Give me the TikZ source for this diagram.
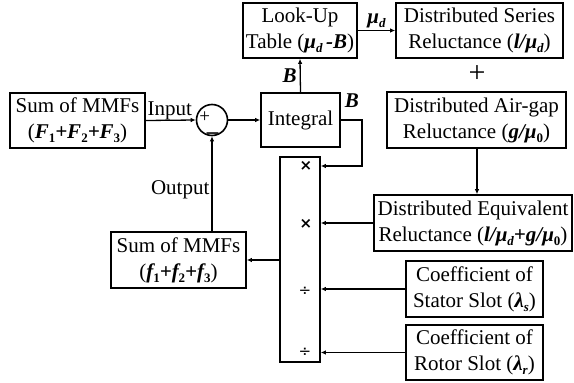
\documentclass[tikz,border=0pt]{standalone}
\usepackage{fontspec}
\setmainfont{Liberation Serif}
\newfontfamily\dejavu{DejaVu Sans}
\usetikzlibrary{arrows.meta}
\newcommand\bi[1]{{\bfseries\itshape #1}}
\newcommand\lsub[1]{\raisebox{-4pt}{\fontsize{13}{13}\selectfont #1}}
\newcommand\nsub[1]{\raisebox{-4pt}{\fontsize{13}{13}\selectfont\upshape\bfseries #1}}
\begin{document}
\begin{tikzpicture}[x=1pt,y=-1pt,
  every node/.style={font=\fontsize{21}{26}\selectfont},
  box/.style={draw, line width=1.6pt, inner sep=0pt, align=center},
  conn/.style={line width=1.3pt, -{Latex[length=5pt,width=4.5pt]}},
  sym/.style={inner sep=0pt}]
\useasboundingbox (0,0) rectangle (574,383);
% boxes
\node[box, minimum width=114pt, minimum height=55pt] (lut) at (300,30.5) {Look-Up\\Table (\bi{μ\lsub{d}\,-B})};
\node[box, minimum width=167pt, minimum height=55pt] (series) at (479.5,30.5) {Distributed Series\\Reluctance (\bi{l/μ\lsub{d}})};
\node[inner sep=0pt, font=\fontsize{30}{30}\selectfont] (plus) at (477,74) {+};
\node[box, minimum width=179pt, minimum height=56pt] (airgap) at (476.5,120) {Distributed Air-gap\\Reluctance (\bi{g/μ}\nsub{0})};
\node[box, minimum width=198pt, minimum height=56pt] (equiv) at (473,223) {Distributed Equivalent\\Reluctance (\bi{l/μ\lsub{d}+g/μ}\nsub{0})};
\node[box, minimum width=137pt, minimum height=56pt] (stator) at (474.5,289) {Coefficient of\\Stator Slot (\bi{λ\lsub{s}})};
\node[box, minimum width=137pt, minimum height=55pt] (rotor) at (474.5,352.5) {Coefficient of\\Rotor Slot (\bi{λ\lsub{r}})};
\node[box, minimum width=40pt, minimum height=205pt] (tall) at (300,259.5) {};
\node[box, minimum width=79pt, minimum height=54pt] (integral) at (300.5,120) {Integral};
\node[box, minimum width=135pt, minimum height=55pt] (sumF) at (77.5,120.5) {Sum of MMFs\\(\bi{F\nsub{1}+F\nsub{2}+F\nsub{3}})};
\node[box, minimum width=135pt, minimum height=56pt] (sumf) at (178.5,260) {Sum of MMFs\\(\bi{f\nsub{1}+f\nsub{2}+f\nsub{3}})};
\node[draw, circle, line width=1.6pt, minimum size=31pt, inner sep=0pt] (circ) at (212,120) {};
\node[inner sep=0pt, anchor=base west, font=\fontsize{19}{19}\selectfont] (csigns) at (199.2,122.5) {+\kern-5.4pt\raisebox{-17.3pt}{\dejavu −}};
% symbols in tall box
\node[sym, font=\dejavu\bfseries\fontsize{15}{15}\selectfont] (m1) at (306,166) {×};
\node[sym, font=\dejavu\bfseries\fontsize{15}{15}\selectfont] (m2) at (306,224) {×};
\node[sym, font=\dejavu\fontsize{15}{15}\selectfont] (d1) at (305,291) {÷};
\node[sym, font=\dejavu\fontsize{15}{15}\selectfont] (d2) at (305,352) {÷};
% coordinates
\coordinate (bcorner1) at (362,120);
\coordinate (bcorner2) at (362,166);
% connectors
\draw[conn] (sumF.east) -- (circ.west) node[pos=0.48, above=-1pt, inner sep=1pt] (inlbl) {Input};
\draw[conn] (circ.east) -- (integral.west);
\draw[conn] (sumf.north -| circ.south) -- (circ.south) node[pos=0.44, left=1pt, inner sep=1pt] (outlbl) {Output};
\draw[conn] (integral.north) -- (lut.south) node[midway, left=3pt, inner sep=0pt] (blbl1) {\bi{B}};
\draw[conn] (lut.east |- series.west) -- (series.west) node[midway, above=2pt, inner sep=0pt] (mulbl) {\bi{μ\lsub{d}}};
\draw[conn] (integral.east) -- (bcorner1) -- (bcorner2) -- (bcorner2 -| tall.east);
\node[inner sep=0pt] (blbl2) at (352,101) {\bi{B}};
\draw[conn] (airgap.south -| plus) -- (equiv.north -| plus);
\draw[conn] (equiv.west) -- (equiv.west -| tall.east);
\draw[conn] (stator.west) -- (stator.west -| tall.east);
\draw[conn] (rotor.west) -- (rotor.west -| tall.east);
\draw[conn] (tall.west |- sumf.east) -- (sumf.east);
\end{tikzpicture}
\end{document}
